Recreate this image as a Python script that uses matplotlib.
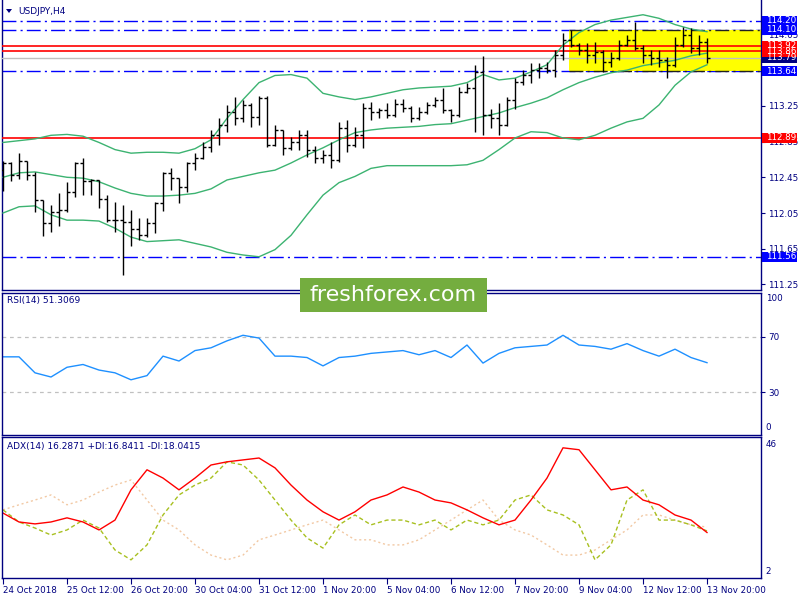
import matplotlib
matplotlib.use('Agg')
import matplotlib.pyplot as plt
import matplotlib.transforms as mtransforms
from matplotlib.patches import Rectangle, Polygon
import numpy as np

plt.rcParams['font.family'] = ['DejaVu Sans']

# ---------------- data ----------------
symbol = "USDJPY,H4"
opens = [112.53,112.61,112.48,112.63,112.48,112.20,111.94,112.06,112.08,112.29,
         112.61,112.41,112.42,112.21,111.97,111.97,111.95,111.87,111.80,111.94,
         112.16,112.50,112.44,112.34,112.61,112.67,112.79,112.92,113.04,113.18,
         113.11,113.26,113.13,113.34,112.81,112.98,112.78,112.85,112.92,112.76,
         112.67,112.70,112.64,113.00,112.81,112.92,113.23,113.18,113.20,113.15,
         113.27,113.23,113.11,113.18,113.26,113.32,113.20,113.15,113.40,113.45,
         113.63,113.15,113.11,113.04,113.32,113.52,113.60,113.65,113.67,113.65,
         113.82,113.99,113.93,113.88,113.82,113.85,113.74,113.79,113.93,113.99,
         113.90,113.82,113.79,113.76,113.71,113.93,114.04,113.90,113.96]
highs = [112.63,112.62,112.72,112.63,112.51,112.20,112.14,112.27,112.40,112.62,
         112.67,112.43,112.42,112.25,112.17,112.14,112.08,111.99,111.99,112.17,
         112.51,112.55,112.44,112.62,112.72,112.85,112.98,113.11,113.26,113.35,
         113.32,113.28,113.36,113.36,113.04,112.98,112.90,112.98,112.98,112.80,
         112.76,112.85,113.07,113.09,113.01,113.28,113.29,113.23,113.28,113.33,
         113.33,113.25,113.24,113.29,113.35,113.45,113.22,113.46,113.51,113.71,
         113.81,113.22,113.28,113.35,113.56,113.65,113.73,113.73,113.74,113.88,
         114.07,114.10,113.95,113.95,113.97,113.87,113.85,113.99,114.04,114.19,
         113.93,113.88,113.88,113.80,114.02,114.13,114.12,114.04,114.01]
lows = [112.30,112.41,112.43,112.42,112.06,111.79,111.84,111.90,112.06,112.23,
        112.25,112.25,112.11,111.95,111.84,111.36,111.68,111.75,111.78,111.83,
        112.07,112.31,112.16,112.29,112.53,112.65,112.73,112.81,112.96,113.04,
        113.07,113.01,113.04,112.79,112.80,112.70,112.76,112.76,112.68,112.61,
        112.61,112.55,112.62,112.73,112.79,112.78,113.09,113.11,113.11,113.13,
        113.18,113.07,113.09,113.16,113.24,113.17,113.07,113.13,113.39,112.96,
        112.92,113.00,112.92,113.02,113.22,113.48,113.51,113.56,113.62,113.57,
        113.76,113.91,113.82,113.73,113.73,113.63,113.69,113.76,113.92,113.88,
        113.73,113.71,113.69,113.56,113.69,113.91,113.84,113.82,113.73]
closes = [112.61,112.48,112.63,112.48,112.20,111.94,112.06,112.08,112.29,112.61,
          112.41,112.42,112.21,111.97,111.97,111.95,111.87,111.80,111.94,112.16,
          112.50,112.44,112.34,112.61,112.67,112.79,112.92,113.04,113.18,113.11,
          113.26,113.13,113.34,112.81,112.98,112.78,112.85,112.92,112.76,112.67,
          112.70,112.64,113.00,112.81,112.92,113.23,113.18,113.20,113.15,113.27,
          113.23,113.11,113.18,113.26,113.32,113.20,113.15,113.40,113.45,113.63,
          113.15,113.11,113.04,113.32,113.52,113.60,113.65,113.67,113.65,113.82,
          113.99,113.93,113.88,113.82,113.85,113.74,113.79,113.93,113.99,113.90,
          113.82,113.79,113.76,113.71,113.93,114.04,113.90,113.96,113.79]

# Bollinger bands (20, 2) read every second bar
bb_upper = [112.84,112.86,112.88,112.92,112.93,112.91,112.84,112.76,112.72,112.73,
            112.73,112.72,112.77,112.87,113.11,113.32,113.51,113.59,113.60,113.56,
            113.39,113.35,113.32,113.35,113.39,113.43,113.45,113.46,113.47,113.51,
            113.60,113.54,113.56,113.63,113.71,113.93,114.07,114.16,114.21,114.24,
            114.27,114.23,114.16,114.11,114.08]
bb_middle = [112.45,112.50,112.51,112.48,112.45,112.44,112.40,112.33,112.27,112.24,
             112.24,112.25,112.27,112.32,112.42,112.46,112.50,112.53,112.61,112.70,
             112.78,112.87,112.95,112.98,113.00,113.01,113.02,113.04,113.05,113.09,
             113.13,113.17,113.23,113.28,113.34,113.43,113.51,113.57,113.62,113.65,
             113.70,113.73,113.76,113.81,113.84]
bb_lower = [112.05,112.12,112.13,112.03,111.97,111.97,111.96,111.88,111.78,111.73,
            111.74,111.75,111.71,111.67,111.61,111.58,111.56,111.64,111.80,112.03,
            112.25,112.39,112.46,112.55,112.58,112.58,112.58,112.58,112.58,112.59,
            112.64,112.76,112.89,112.96,112.95,112.89,112.87,112.92,113.00,113.07,
            113.11,113.26,113.48,113.63,113.71]

rsi_vals = [55.5,55.5,44,41,48,50,46,44,39,42,56,52.5,60,62,67,71,69,56,56,55,
            49,55,56,58,59,60,57,60,55,64,51,58,62,63,64,71,64,63,61,65,60,56,61,55,51.3]

adx_vals = [22.4,19.6,19.0,19.6,20.9,19.6,17.1,20.2,29.7,36.0,33.4,29.7,33.4,37.5,38.5,
            39.1,39.7,36.6,31.2,26.5,22.8,20.2,22.8,26.5,28.1,30.6,29.0,26.5,25.6,23.4,
            20.9,18.7,20.2,26.5,33.4,42.9,42.3,36.0,29.7,30.6,26.5,25.0,21.8,20.2,16.3]
pdi_vals = [23.4,19.6,17.7,15.5,17.1,20.2,17.7,10.8,7.7,12.4,21.8,28.1,31.2,33.4,38.5,
            37.5,32.8,26.5,20.2,14.6,11.4,18.7,21.8,18.7,20.2,20.2,18.7,20.2,17.1,20.2,
            18.7,20.2,26.5,28.1,23.4,21.8,18.7,7.7,12.4,26.5,29.7,20.2,20.2,18.7,16.8]
mdi_vals = [23.4,25.0,26.5,28.1,25.0,26.5,29.0,31.2,32.8,26.5,20.2,17.1,12.4,9.2,7.7,
            9.2,14.0,15.5,17.1,18.7,20.2,17.1,14.0,14.0,12.4,12.4,14.0,17.1,20.2,23.4,
            26.5,20.2,17.1,15.5,12.4,9.2,9.2,10.8,14.0,17.1,21.8,21.8,20.2,18.7,18.0]

date_labels = ["24 Oct 2018", "25 Oct 12:00", "26 Oct 20:00", "30 Oct 04:00",
               "31 Oct 12:00", "1 Nov 20:00", "5 Nov 04:00", "6 Nov 12:00",
               "7 Nov 20:00", "9 Nov 04:00", "12 Nov 12:00", "13 Nov 20:00"]

blue_levels = [114.20, 114.10, 113.64, 111.56]
red_levels = [113.92, 113.86, 112.89]
bid_price = 113.79
zone_top, zone_bottom = 114.10, 113.64
zone_start_bar = 70.8
price_ticks = [114.05, 113.65, 113.25, 112.85, 112.45, 112.05, 111.65, 111.25]
price_tick_labels = ["114.05", "", "113.25", "112.85", "112.45", "112.05", "111.65", "111.25"]

# ---------------- layout ----------------
W, H = 800, 600
fig = plt.figure(figsize=(8, 6), dpi=100)
fig.patch.set_facecolor('white')
NAVY = '#000080'

def px_axes(left, top, right, bottom):
    return fig.add_axes([left / W, 1 - bottom / H, (right - left) / W, (bottom - top) / H])

ax = px_axes(2, 0, 761, 290)
ax_rsi = px_axes(2, 293, 761, 435)
ax_adx = px_axes(2, 437, 761, 578)

n = len(closes)
idx = np.arange(n)
band_idx = np.arange(0, n, 2)
XL = (-0.125, 94.75)

for a in (ax, ax_rsi, ax_adx):
    a.set_xlim(*XL)
    a.set_facecolor('white')
    for s in a.spines.values():
        s.set_color(NAVY)
        s.set_linewidth(1.0)
    a.tick_params(axis='x', which='both', bottom=False, labelbottom=False)
    a.yaxis.tick_right()
    a.tick_params(axis='y', colors=NAVY, labelcolor=NAVY, length=3, width=0.8,
                  labelsize=6.3, pad=2)
ax.spines['top'].set_visible(False)

# ---------------- main chart ----------------
ax.set_ylim(111.188, 114.435)
ax.set_yticks(price_ticks)
ax.set_yticklabels(price_tick_labels)

dashdot = (0, (10, 3, 1.5, 3))
for lv in blue_levels:
    ax.axhline(lv, color='#0000ff', lw=1.0, linestyle=dashdot, zorder=1)

ax.add_patch(Rectangle((zone_start_bar, zone_bottom), XL[1] + 5 - zone_start_bar,
                       zone_top - zone_bottom, facecolor='#ffff00', edgecolor='none',
                       zorder=2))
ax.hlines([zone_top, zone_bottom], zone_start_bar, XL[1], colors='#202020', lw=1.0,
          linestyles=[dashdot], zorder=2.5)

for lv in red_levels:
    ax.axhline(lv, color='#ff0000', lw=1.2, zorder=3)
ax.axhline(bid_price, color='#c0c0c0', lw=1.0, zorder=3)

for band in (bb_upper, bb_middle, bb_lower):
    ax.plot(band_idx, band, color='#3cb371', lw=1.0, zorder=4)

ax.vlines(idx, lows, highs, color='black', lw=1.0, zorder=5)
ax.hlines(opens, idx - 0.4, idx, color='black', lw=1.0, zorder=5)
ax.hlines(closes, idx, idx + 0.4, color='black', lw=1.0, zorder=5)

# title
fig.patches.append(Polygon([[6 / W, 1 - 9 / H], [12 / W, 1 - 9 / H], [9 / W, 1 - 13 / H]],
                           closed=True, transform=fig.transFigure, facecolor=NAVY,
                           edgecolor='none'))
fig.text(18 / W, 1 - 11 / H, symbol, color=NAVY, fontsize=6.5, va='center', ha='left')

# price labels on right axis
blend = mtransforms.blended_transform_factory(fig.transFigure, ax.transData)
box_h = 10.5 / 89.3

def price_label(p, bg, fg='white'):
    fig.patches.append(Rectangle((762 / W, p - box_h / 2), 35 / W, box_h,
                                 transform=blend, facecolor=bg, edgecolor='none'))
    fig.text(766 / W, p, f"{p:.2f}", transform=blend, color=fg, fontsize=6.3,
             va='center', ha='left')

price_label(114.20, '#0000ff')
price_label(114.10, '#0000ff')
price_label(bid_price, NAVY)
price_label(113.92, '#ff0000')
price_label(113.86, '#ff0000')
price_label(113.64, '#0000ff')
price_label(112.89, '#ff0000')
price_label(111.56, '#0000ff')

# ---------------- RSI ----------------
ax_rsi.set_ylim(-0.7, 101.4)
ax_rsi.set_yticks([30, 70])
ax_rsi.set_yticklabels(['30', '70'])
for lv in (30, 70):
    ax_rsi.axhline(lv, color='#c0c0c0', lw=0.9, linestyle=(0, (3, 3)))
ax_rsi.plot(band_idx, rsi_vals, color='#1e90ff', lw=1.0)
ytr = ax_rsi.get_yaxis_transform()
ax_rsi.text(1.006, 97.3, '100', transform=ytr, color=NAVY, fontsize=6.3, va='center')
ax_rsi.text(1.006, 4.5, '0', transform=ytr, color=NAVY, fontsize=6.3, va='center')
ax_rsi.text(5 / 759, 1 - 8 / 142, "RSI(14) 51.3069",
            transform=ax_rsi.transAxes, color=NAVY, fontsize=6.5, va='center')

# ---------------- ADX ----------------
ax_adx.set_ylim(2, 46.3)
ax_adx.set_yticks([])
ax_adx.plot(band_idx, mdi_vals, color='#f2c9a4', lw=1.0, linestyle=(0, (1.5, 2)))
ax_adx.plot(band_idx, pdi_vals, color='#a8c020', lw=1.0, linestyle=(0, (3, 2)))
ax_adx.plot(band_idx, adx_vals, color='#ff0000', lw=1.0)
ytr2 = ax_adx.get_yaxis_transform()
ax_adx.text(1.006, 44.0, '46', transform=ytr2, color=NAVY, fontsize=6.3, va='center')
ax_adx.text(1.006, 4.0, '2', transform=ytr2, color=NAVY, fontsize=6.3, va='center')
ax_adx.text(5 / 759, 1 - 9 / 141, "ADX(14) 16.2871 +DI:16.8411 -DI:18.0415",
            transform=ax_adx.transAxes, color=NAVY, fontsize=6.5, va='center')

ax_adx.tick_params(axis='x', bottom=True, labelbottom=True, colors=NAVY, length=4,
                   width=0.8, labelsize=6.3, pad=1.5, direction='out')
ax_adx.set_xticks(np.arange(0, n, 8))
ax_adx.set_xticklabels(date_labels, ha='left')

# ---------------- watermark ----------------
fig.patches.append(Rectangle((300 / W, 1 - 312 / H), 187 / W, 34 / H,
                             transform=fig.transFigure, facecolor='#74ad3f',
                             edgecolor='none', zorder=10))
fig.text(393.5 / W, 1 - 295 / H, 'freshforex.com', color='white', fontsize=16,
         ha='center', va='center', zorder=11)

fig.savefig('out.png', dpi=100)
